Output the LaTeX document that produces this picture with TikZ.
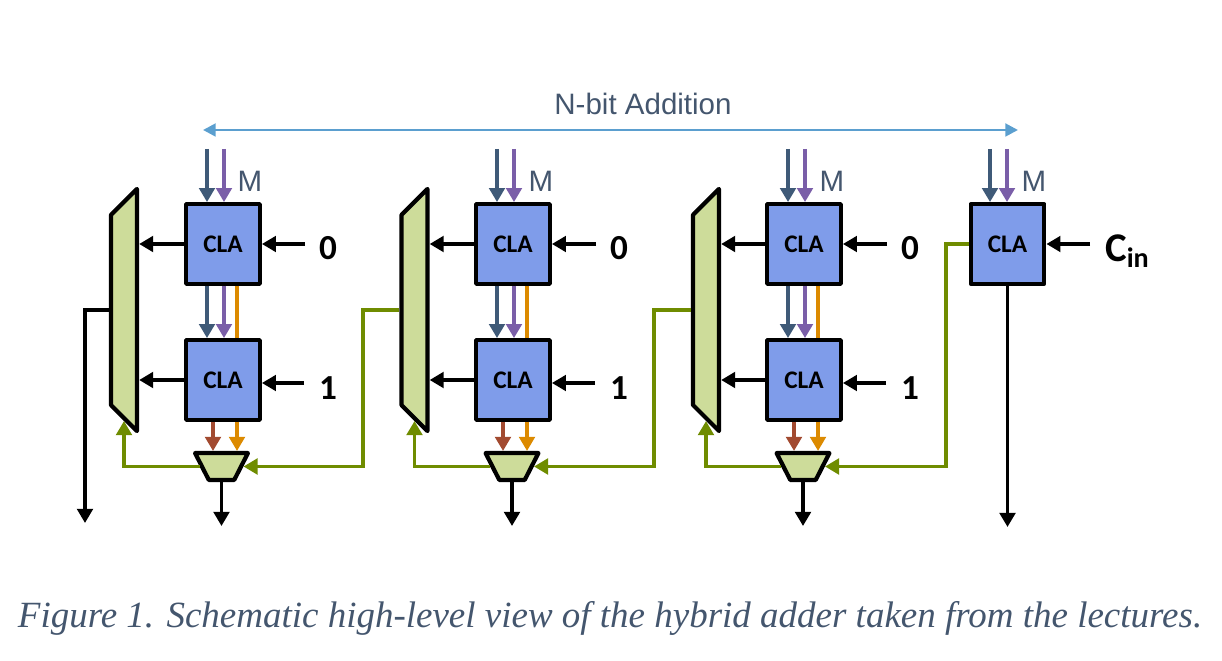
\documentclass[tikz,border=0pt]{standalone}
\usepackage{fontspec}
\setmainfont{Liberation Sans}
\newfontfamily\calfont{Carlito}
\newfontfamily\capfont{Liberation Serif}
\usetikzlibrary{arrows.meta,shapes.geometric}
\definecolor{clafill}{HTML}{7F9CEA}
\definecolor{muxfill}{HTML}{CDDC9A}
\definecolor{selgreen}{HTML}{6F8C00}
\definecolor{mslate}{HTML}{3F5A78}
\definecolor{mpurple}{HTML}{7A5EA8}
\definecolor{corange}{HTML}{DC8A00}
\definecolor{cbrown}{HTML}{A24A30}
\definecolor{spanblue}{HTML}{5B9FCF}
\definecolor{labelgray}{HTML}{44566E}
\tikzset{
	clabox/.style={draw,line width=3pt,fill=clafill,minimum width=1.84cm,minimum height=1.99cm,inner sep=0pt,line join=round,font=\fontsize{18}{18}\calfont\bfseries},
	muxbig/.style={draw,line width=3pt,fill=muxfill,trapezium,trapezium stretches body=true,trapezium left angle=45,trapezium right angle=45,rotate=90,minimum width=6.05cm,inner xsep=1pt,inner ysep=0.325cm,line join=round},
	muxsmall/.style={draw,line width=3pt,fill=muxfill,trapezium,trapezium stretches body=true,trapezium left angle=63,trapezium right angle=63,rotate=180,minimum width=1.32cm,inner xsep=1pt,inner ysep=0.335cm,line join=round},
	wire/.style={line width=2.6pt,-{Triangle[length=10pt,width=11pt]}},
	bitlabel/.style={font=\fontsize{25}{25}\calfont\bfseries},
	memlabel/.style={font=\fontsize{21}{21}\selectfont,text=labelgray}
}
\begin{document}
\begin{tikzpicture}[x=0.025cm,y=-0.025cm]
	\useasboundingbox (0,0) rectangle (1222,661);
	% span and title
	\coordinate (spanl) at (203,130);
	\coordinate (spanr) at (1018,130);
	\draw[spanblue,line width=2pt,{Triangle[length=9pt,width=9pt]}-{Triangle[length=9pt,width=9pt]}] (spanl)--(spanr);
	\node [font=\fontsize{21}{21}\selectfont,text=labelgray] (title) at (643,104) {N-bit Addition};
	\node [font=\fontsize{26.3}{27}\capfont\itshape,text=labelgray] (caption) at (610,618) {Figure 1. Schematic high-level view of the hybrid adder taken from the lectures.};
	% first stage
	\node [clabox] (cla1t) at (223,244) {CLA};
	\node [clabox] (cla1b) at (223,380) {CLA};
	\node [muxbig] (mux1) at (124,310) {};
	\node [muxsmall] (sel1) at (221.5,466.5) {};
	\node [bitlabel] (zero1) at (328,248) {0};
	\node [bitlabel] (one1) at (328,388) {1};
	\node [memlabel] (m1) at (250,181) {M};
	\coordinate (dark1) at (207,149);
	\coordinate (purp1) at (224,149);
	\coordinate (orng1) at (237,149);
	\coordinate (brwn1) at (213,149);
	\coordinate (int1) at (305,244);
	\coordinate (inb1) at (304,383);
	\coordinate (out1) at (221.5,526);
	\coordinate (cout1) at (85,523);
	\coordinate (turn1) at (363,466.5);
	\draw[wire,mslate] (dark1)--(dark1 |- cla1t.north);
	\draw[wire,mpurple] (purp1)--(purp1 |- cla1t.north);
	\draw[wire,mslate] (dark1 |- cla1t.south)--(dark1 |- cla1b.north);
	\draw[wire,mpurple] (purp1 |- cla1t.south)--(purp1 |- cla1b.north);
	\draw[corange,line width=2.6pt] (orng1 |- cla1t.south)--(orng1 |- cla1b.north);
	\draw[wire,cbrown] (brwn1 |- cla1b.south)--(brwn1 |- sel1.bottom side);
	\draw[wire,corange] (orng1 |- cla1b.south)--(orng1 |- sel1.bottom side);
	\draw[wire] (cla1t.west)--(cla1t.west -| mux1.bottom side);
	\draw[wire] (cla1b.west)--(cla1b.west -| mux1.bottom side);
	\draw[wire] (int1)--(int1 -| cla1t.east);
	\draw[wire] (inb1)--(inb1 -| cla1b.east);
	\draw[wire] (mux1.top side) -| (cout1);
	\draw[wire] (sel1.top side)--(out1);
	\draw[wire,selgreen] (sel1.right side) -| (mux1.left side);
	% second stage
	\node [clabox] (cla2t) at (513,244) {CLA};
	\node [clabox] (cla2b) at (513,380) {CLA};
	\node [muxbig] (mux2) at (414.5,310) {};
	\node [muxsmall] (sel2) at (512,466.5) {};
	\node [bitlabel] (zero2) at (619,248) {0};
	\node [bitlabel] (one2) at (619,388) {1};
	\node [memlabel] (m2) at (541,181) {M};
	\coordinate (dark2) at (497,149);
	\coordinate (purp2) at (514,149);
	\coordinate (orng2) at (527,149);
	\coordinate (brwn2) at (503,149);
	\coordinate (int2) at (596,244);
	\coordinate (inb2) at (595,383);
	\coordinate (out2) at (512,526);
	\coordinate (turn2) at (654,466.5);
	\draw[wire,mslate] (dark2)--(dark2 |- cla2t.north);
	\draw[wire,mpurple] (purp2)--(purp2 |- cla2t.north);
	\draw[wire,mslate] (dark2 |- cla2t.south)--(dark2 |- cla2b.north);
	\draw[wire,mpurple] (purp2 |- cla2t.south)--(purp2 |- cla2b.north);
	\draw[corange,line width=2.6pt] (orng2 |- cla2t.south)--(orng2 |- cla2b.north);
	\draw[wire,cbrown] (brwn2 |- cla2b.south)--(brwn2 |- sel2.bottom side);
	\draw[wire,corange] (orng2 |- cla2b.south)--(orng2 |- sel2.bottom side);
	\draw[wire] (cla2t.west)--(cla2t.west -| mux2.bottom side);
	\draw[wire] (cla2b.west)--(cla2b.west -| mux2.bottom side);
	\draw[wire] (int2)--(int2 -| cla2t.east);
	\draw[wire] (inb2)--(inb2 -| cla2b.east);
	\draw[wire] (sel2.top side)--(out2);
	\draw[wire,selgreen] (sel2.right side) -| (mux2.left side);
	\draw[wire,selgreen] (mux2.top side) -| (turn1)--(sel1.left side);
	% third stage
	\node [clabox] (cla3t) at (804,244) {CLA};
	\node [clabox] (cla3b) at (804,380) {CLA};
	\node [muxbig] (mux3) at (706,310) {};
	\node [muxsmall] (sel3) at (803,466.5) {};
	\node [bitlabel] (zero3) at (910,248) {0};
	\node [bitlabel] (one3) at (910,388) {1};
	\node [memlabel] (m3) at (832,181) {M};
	\coordinate (dark3) at (788,149);
	\coordinate (purp3) at (805,149);
	\coordinate (orng3) at (818,149);
	\coordinate (brwn3) at (794,149);
	\coordinate (int3) at (887,244);
	\coordinate (inb3) at (886,383);
	\coordinate (out3) at (803,526);
	\coordinate (turn3) at (946,466.5);
	\draw[wire,mslate] (dark3)--(dark3 |- cla3t.north);
	\draw[wire,mpurple] (purp3)--(purp3 |- cla3t.north);
	\draw[wire,mslate] (dark3 |- cla3t.south)--(dark3 |- cla3b.north);
	\draw[wire,mpurple] (purp3 |- cla3t.south)--(purp3 |- cla3b.north);
	\draw[corange,line width=2.6pt] (orng3 |- cla3t.south)--(orng3 |- cla3b.north);
	\draw[wire,cbrown] (brwn3 |- cla3b.south)--(brwn3 |- sel3.bottom side);
	\draw[wire,corange] (orng3 |- cla3b.south)--(orng3 |- sel3.bottom side);
	\draw[wire] (cla3t.west)--(cla3t.west -| mux3.bottom side);
	\draw[wire] (cla3b.west)--(cla3b.west -| mux3.bottom side);
	\draw[wire] (int3)--(int3 -| cla3t.east);
	\draw[wire] (inb3)--(inb3 -| cla3b.east);
	\draw[wire] (sel3.top side)--(out3);
	\draw[wire,selgreen] (sel3.right side) -| (mux3.left side);
	\draw[wire,selgreen] (mux3.top side) -| (turn2)--(sel2.left side);
	% last block
	\node [clabox] (cla4) at (1007.5,244) {CLA};
	\node [font=\fontsize{29}{29}\calfont\bfseries] (cin) at (1127,251) {C\raisebox{-.32ex}{\fontsize{20}{20}\selectfont in}};
	\node [memlabel] (m4) at (1034,181) {M};
	\coordinate (dark4) at (990,149);
	\coordinate (purp4) at (1007,149);
	\coordinate (inc4) at (1090,244);
	\coordinate (out4) at (1007.5,527);
	\draw[wire,mslate] (dark4)--(dark4 |- cla4.north);
	\draw[wire,mpurple] (purp4)--(purp4 |- cla4.north);
	\draw[wire] (inc4)--(inc4 -| cla4.east);
	\draw[wire] (cla4.south)--(out4);
	\draw[wire,selgreen] (cla4.west) -| (turn3)--(sel3.left side);
\end{tikzpicture}
\end{document}
